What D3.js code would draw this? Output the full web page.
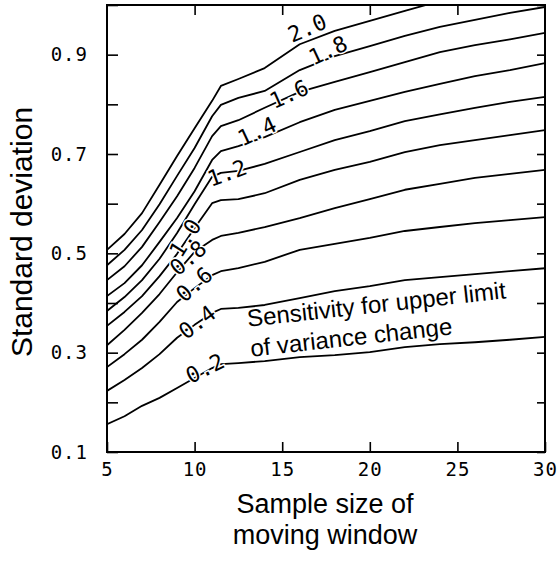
<!DOCTYPE html>
<html><head><meta charset="utf-8">
<script src="https://cdn.jsdelivr.net/npm/d3@7"></script>
<style>html,body{margin:0;padding:0;background:#fff}</style>
</head><body>
<svg id="chart" width="559" height="561"></svg>
<script>
// ---- data ----
const sampleSizes = [5, 6, 7, 8, 9, 10, 11, 11.5, 12.5, 14, 16, 18, 20, 22, 24, 26, 28, 30];
const contourLevels = ["2.0", "1.8", "1.6", "1.4", "1.2", "1.0", "0.8", "0.6", "0.4", "0.2"];
const sdLevel20 = [0.507, 0.539, 0.581, 0.638, 0.696, 0.752, 0.807, 0.837, 0.851, 0.873, 0.921, 0.948, 0.968, 0.988, 1.008, null, null, null];
const sdLevel18 = [0.476, 0.507, 0.547, 0.599, 0.656, 0.712, 0.776, 0.799, 0.813, 0.827, 0.869, 0.897, 0.917, 0.938, 0.956, 0.970, 0.984, 0.996];
const sdLevel16 = [0.446, 0.474, 0.513, 0.563, 0.615, 0.672, 0.736, 0.756, 0.768, 0.793, 0.825, 0.845, 0.865, 0.885, 0.905, 0.919, 0.931, 0.944];
const sdLevel14 = [0.414, 0.440, 0.476, 0.523, 0.571, 0.625, 0.688, 0.706, 0.716, 0.734, 0.764, 0.789, 0.807, 0.825, 0.841, 0.857, 0.869, 0.883];
const sdLevel12 = [0.384, 0.412, 0.446, 0.489, 0.541, 0.599, 0.654, 0.662, 0.666, 0.680, 0.704, 0.728, 0.746, 0.766, 0.780, 0.793, 0.805, 0.815];
const sdLevel10 = [0.354, 0.382, 0.414, 0.454, 0.499, 0.551, 0.601, 0.607, 0.609, 0.621, 0.648, 0.668, 0.684, 0.704, 0.718, 0.728, 0.738, 0.748];
const sdLevel08 = [0.315, 0.346, 0.380, 0.418, 0.462, 0.503, 0.527, 0.535, 0.541, 0.553, 0.571, 0.591, 0.609, 0.628, 0.640, 0.652, 0.660, 0.668];
const sdLevel06 = [0.271, 0.297, 0.326, 0.362, 0.402, 0.430, 0.456, 0.464, 0.470, 0.483, 0.507, 0.519, 0.531, 0.545, 0.553, 0.561, 0.567, 0.573];
const sdLevel04 = [0.223, 0.245, 0.269, 0.297, 0.330, 0.356, 0.380, 0.388, 0.390, 0.396, 0.410, 0.424, 0.434, 0.446, 0.452, 0.458, 0.464, 0.470];
const sdLevel02 = [0.156, 0.172, 0.193, 0.209, 0.229, 0.249, 0.269, 0.277, 0.279, 0.283, 0.291, 0.295, 0.301, 0.311, 0.317, 0.321, 0.326, 0.332];
const contourSeries = [sdLevel20, sdLevel18, sdLevel16, sdLevel14, sdLevel12, sdLevel10, sdLevel08, sdLevel06, sdLevel04, sdLevel02];

// contour label anchors (data units) and rotation
const labelX = [16.42, 17.61, 15.39, 13.56, 11.85, 9.45, 9.62, 9.97, 10.14, 10.59];
const labelY = [0.954, 0.909, 0.821, 0.746, 0.662, 0.531, 0.491, 0.438, 0.362, 0.269];
const labelAngle = [-23, -25, -24, -25, -20, -58, -40, -41, -37, -26];

const xTickValues = [5, 10, 15, 20, 25, 30];
const xTickLabels = ["5", "10", "15", "20", "25", "30"];
const yTickValues = [0.1, 0.2, 0.3, 0.4, 0.5, 0.6, 0.7, 0.8, 0.9, 1.0];
const yTickLabels = ["0.1", "", "0.3", "", "0.5", "", "0.7", "", "0.9", ""];
const xTitleLines = ["Sample size of", "moving window"];
const yTitle = "Standard deviation";
const noteLines = ["Sensitivity for upper limit", "of variance change"];
const noteAnchor = [13.05, 0.352];

// ---- layout ----
const W = 559, H = 561;
const m = {left: 107, right: 14, top: 5, bottom: 109};
const svg = d3.select("#chart");
const x = d3.scaleLinear().domain([5, 30]).range([m.left, W - m.right]);
const y = d3.scaleLinear().domain([0.1, 1.0]).range([H - m.bottom, m.top]);
const mono = "'DejaVu Sans Mono', 'Liberation Mono', monospace";
const sans = "'Liberation Sans', Arial, Helvetica, sans-serif";

svg.append("defs").append("clipPath").attr("id", "plotclip")
  .append("rect").attr("x", m.left).attr("y", m.top)
  .attr("width", W - m.left - m.right).attr("height", H - m.top - m.bottom);

// contours
const line = d3.line()
  .defined(d => d[1] != null)
  .x(d => x(d[0])).y(d => y(d[1]))
  .curve(d3.curveLinear);
const gLines = svg.append("g").attr("clip-path", "url(#plotclip)");
contourSeries.forEach(s => {
  gLines.append("path")
    .datum(sampleSizes.map((v, i) => [v, s[i]]))
    .attr("d", line)
    .attr("fill", "none").attr("stroke", "#000")
    .attr("stroke-width", 1.8).attr("stroke-linejoin", "round");
});

// contour labels
contourLevels.forEach((lab, i) => {
  svg.append("text")
    .attr("transform", `translate(${x(labelX[i])},${y(labelY[i])}) rotate(${labelAngle[i]})`)
    .attr("text-anchor", "middle").attr("dy", "0.36em")
    .attr("font-family", mono).attr("font-size", 22)
    .attr("fill", "#000")
    .attr("stroke", "#fff").attr("stroke-width", 3).attr("paint-order", "stroke")
    .text(lab);
});

// annotation
const note = svg.append("g")
  .attr("transform", `translate(${x(noteAnchor[0])},${y(noteAnchor[1])}) rotate(-6.3)`);
noteLines.forEach((t, i) => {
  note.append("text").attr("x", 0).attr("y", i * 30)
    .attr("font-family", sans).attr("font-size", 24).attr("fill", "#000")
    .text(t);
});

// axes
function styleAxis(g) {
  g.select(".domain").remove();
  g.selectAll(".tick line").attr("stroke", "#000").attr("stroke-width", 1.6);
  g.selectAll(".tick text").attr("font-family", mono).attr("font-size", 19)
    .attr("letter-spacing", 1).attr("fill", "#000");
}
svg.append("g").attr("transform", `translate(${m.left},0)`)
  .call(d3.axisLeft(y).tickValues(yTickValues).tickSize(-11).tickPadding(19)
    .tickFormat((d, i) => yTickLabels[i]))
  .call(styleAxis);
svg.append("g").attr("transform", `translate(${W - m.right},0)`)
  .call(d3.axisRight(y).tickValues(yTickValues).tickSize(-8).tickFormat(""))
  .call(styleAxis);
svg.append("g").attr("transform", `translate(0,${H - m.bottom})`)
  .call(d3.axisBottom(x).tickValues(xTickValues).tickSize(-10).tickPadding(11)
    .tickFormat((d, i) => xTickLabels[i]))
  .call(styleAxis);
svg.append("g").attr("transform", `translate(0,${m.top})`)
  .call(d3.axisTop(x).tickValues(xTickValues.slice(1, -1)).tickSize(-10).tickFormat(""))
  .call(styleAxis);

// frame
svg.append("rect").attr("x", m.left).attr("y", m.top)
  .attr("width", W - m.left - m.right).attr("height", H - m.top - m.bottom)
  .attr("fill", "none").attr("stroke", "#000").attr("stroke-width", 2);

// titles
xTitleLines.forEach((t, i) => {
  svg.append("text").attr("x", 325).attr("y", 513 + i * 31)
    .attr("text-anchor", "middle").attr("font-family", sans).attr("font-size", 27)
    .attr("fill", "#000").text(t);
});
svg.append("text").attr("transform", "translate(32,232) rotate(-90)")
  .attr("text-anchor", "middle").attr("font-family", sans).attr("font-size", 30)
  .attr("fill", "#000").text(yTitle);
</script>
</body></html>
